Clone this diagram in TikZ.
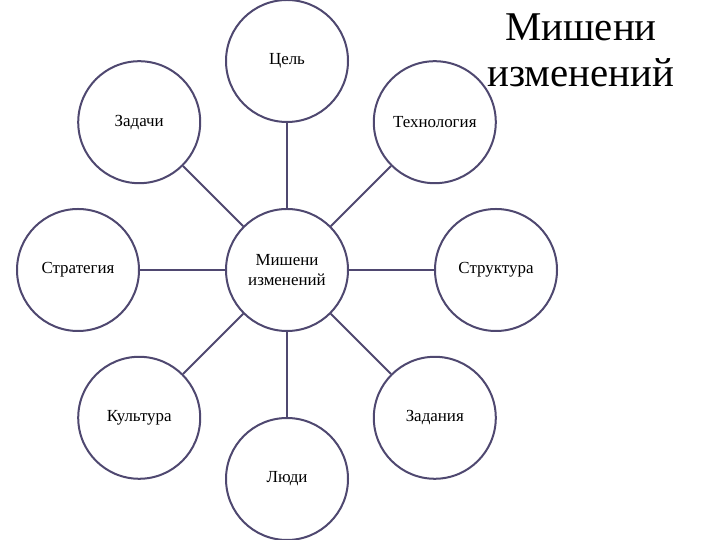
\documentclass[tikz,border=0pt]{standalone}
\usepackage{fontspec}
\setmainfont{Liberation Serif}
\usetikzlibrary{calc}
\definecolor{ringline}{RGB}{79,72,112}

\begin{document}
\begin{tikzpicture}[x=1bp, y=1bp,
    target/.style={circle, draw=ringline, line width=2bp, fill=white,
        minimum size=122bp, inner sep=0pt, align=center,
        font=\fontsize{17}{20}\selectfont},
    link/.style={draw=ringline, line width=2bp}]
    \useasboundingbox (0,0) rectangle (720,540);

    % Title
    \node[align=center, font=\fontsize{41}{46}\selectfont] (title) at (581,490) {Мишени\\изменений};

    % Centre target
    \node[target] (centre) at (287,270) {Мишени\\изменений};

    % Outer targets on a ring
    \foreach \ang/\name/\txt in {90/goal/Цель, 135/tasks/Задачи, 45/tech/Технология,
        180/strategy/Стратегия, 0/structure/Структура, 225/culture/Культура,
        315/jobs/Задания, 270/people/Люди}
    {
        \node[target] (\name) at ($(centre)+(\ang:209)$) {\txt};
        \draw[link] (centre) -- (\name);
    }
\end{tikzpicture}
\end{document}
